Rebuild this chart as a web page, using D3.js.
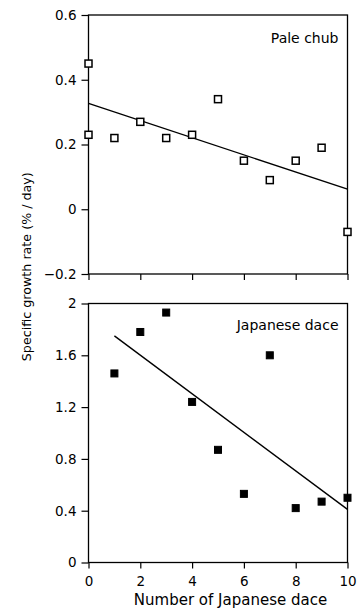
<!DOCTYPE html>
<html><head><meta charset="utf-8">
<script src="https://cdn.jsdelivr.net/npm/d3@7"></script>
<style>body{margin:0;background:#fff}svg{display:block}</style>
</head><body>
<script>
const paleX = [0, 0, 1, 2, 3, 4, 5, 6, 7, 8, 9, 10];
const paleY = [0.45, 0.23, 0.22, 0.27, 0.22, 0.23, 0.34, 0.15, 0.09, 0.15, 0.19, -0.07];
const paleFitX = [0, 10];
const paleFitY = [0.327, 0.062];
const daceX = [1, 2, 3, 4, 5, 6, 7, 8, 9, 10];
const daceY = [1.46, 1.78, 1.93, 1.24, 0.87, 0.53, 1.6, 0.42, 0.47, 0.5];
const daceFitX = [1, 10];
const daceFitY = [1.75, 0.41];
const xTicks = [0, 2, 4, 6, 8, 10];
const paleTicks = [-0.2, 0, 0.2, 0.4, 0.6];
const daceTicks = [0, 0.4, 0.8, 1.2, 1.6, 2];
const xTitle = "Number of Japanese dace";
const yTitle = "Specific growth rate (% / day)";

const W = 358, H = 616;
const svg = d3.select("body").append("svg").attr("width", W).attr("height", H);
const font = "DejaVu Sans, Verdana, sans-serif";
const left = 88.5, right = 347.5;
const x = d3.scaleLinear().domain([0, 10]).range([left, right]);

function panel(top, bottom, domain, yt, fmt, xs, ys, fx, fy, filled, label, labelDy, showXLabels) {
  const y = d3.scaleLinear().domain(domain).range([bottom, top]);
  const g = svg.append("g");
  g.append("rect").attr("x", left).attr("y", top).attr("width", right - left).attr("height", bottom - top)
    .attr("fill", "none").attr("stroke", "#000").attr("stroke-width", 1.3);
  const ya = g.append("g").attr("transform", `translate(${left},0)`)
    .call(d3.axisLeft(y).tickValues(yt).tickSize(7).tickPadding(5).tickFormat(fmt));
  const xa = g.append("g").attr("transform", `translate(0,${bottom})`)
    .call(d3.axisBottom(x).tickValues(xTicks).tickSize(6).tickPadding(8).tickFormat(showXLabels ? d3.format("d") : () => ""));
  [ya, xa].forEach(a => {
    a.select(".domain").remove();
    a.selectAll("line").attr("stroke", "#000").attr("stroke-width", 1.2);
    a.selectAll("text").attr("font-family", font).attr("font-size", 13.5).attr("fill", "#000");
  });
  g.append("line").attr("x1", x(fx[0])).attr("y1", y(fy[0])).attr("x2", x(fx[1])).attr("y2", y(fy[1]))
    .attr("stroke", "#000").attr("stroke-width", 1.4);
  const s = 7;
  g.selectAll("rect.pt").data(xs.map((v, i) => [v, ys[i]])).enter().append("rect").attr("class", "pt")
    .attr("x", d => x(d[0]) - s / 2).attr("y", d => y(d[1]) - s / 2).attr("width", s).attr("height", s)
    .attr("fill", filled ? "#000" : "#fff").attr("stroke", "#000").attr("stroke-width", filled ? 1 : 1.5);
  g.append("text").attr("x", 338.5).attr("y", top + labelDy).attr("text-anchor", "end")
    .attr("font-family", font).attr("font-size", 14).text(label);
}

panel(15, 274, [-0.2, 0.6], paleTicks, d => d === 0 ? "0" : d3.format(".1f")(d), paleX, paleY, paleFitX, paleFitY, false, "Pale chub", 28, false);
panel(303.5, 562.5, [0, 2], daceTicks, d => d === 0 || d === 2 ? d3.format("d")(d) : d3.format(".1f")(d), daceX, daceY, daceFitX, daceFitY, true, "Japanese dace", 26.5, true);

svg.append("text").attr("x", 230.5).attr("y", 605).attr("text-anchor", "middle")
  .attr("font-family", font).attr("font-size", 15).text(xTitle);
svg.append("text").attr("transform", "translate(31,266.7) rotate(-90)").attr("text-anchor", "middle")
  .attr("font-family", font).attr("font-size", 12.7).text(yTitle);
</script>
</body></html>
